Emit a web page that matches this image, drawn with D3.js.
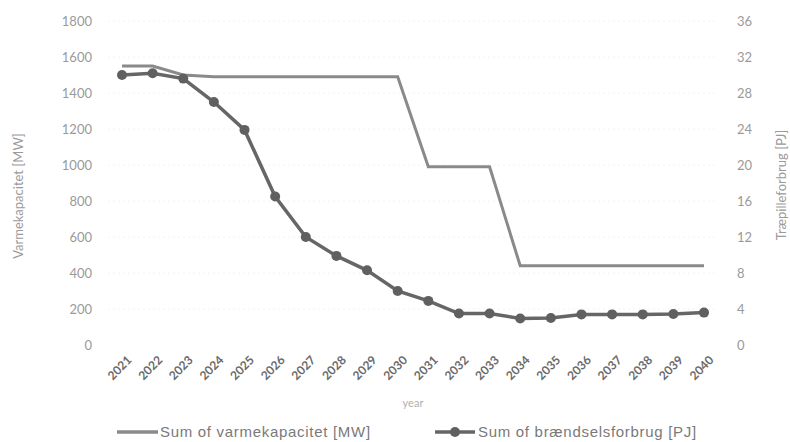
<!DOCTYPE html>
<html><head><meta charset="utf-8">
<script src="https://cdn.jsdelivr.net/npm/d3@7"></script>
<style>body{margin:0;background:#fff}svg{display:block}</style>
</head><body>
<script>
const years = [2021,2022,2023,2024,2025,2026,2027,2028,2029,2030,2031,2032,2033,2034,2035,2036,2037,2038,2039,2040];
const capacity = [1550,1550,1500,1490,1490,1490,1490,1490,1490,1490,990,990,990,440,440,440,440,440,440,440];
const fuel = [30,30.2,29.6,27,23.9,16.5,12,9.9,8.3,6,4.9,3.5,3.5,2.95,3,3.4,3.4,3.4,3.45,3.6];
const leftTicks = [0,200,400,600,800,1000,1200,1400,1600,1800];
const rightTicks = [0,4,8,12,16,20,24,28,32,36];
const seriesNames = ["Sum of varmekapacitet [MW]","Sum of brændselsforbrug [PJ]"];

const W=790,H=442;
const svg=d3.select("body").append("svg").attr("width",W).attr("height",H);
const font="Lato, 'Open Sans', sans-serif";
const x=d3.scalePoint().domain(years).range([122,704]);
const yL=d3.scaleLinear().domain([0,1800]).range([345,21]);
const yR=d3.scaleLinear().domain([0,36]).range([345,21]);

// grid
svg.append("g").selectAll("line").data(leftTicks.slice(1)).join("line")
 .attr("x1",108).attr("x2",718).attr("y1",d=>yL(d)).attr("y2",d=>yL(d))
 .attr("stroke","#f2f2f2").attr("stroke-width",1).attr("stroke-dasharray","2,3");

// left axis
const gl=svg.append("g").attr("transform","translate(100,0)")
 .call(d3.axisLeft(yL).tickValues(leftTicks).tickFormat(d3.format("d")).tickSize(0).tickPadding(8));
gl.select(".domain").remove();
gl.selectAll("text").attr("fill","#9a9a9a").style("font-family",font).style("font-size","13px");

// right axis
const gr=svg.append("g").attr("transform","translate(730,0)")
 .call(d3.axisRight(yR).tickValues(rightTicks).tickFormat(d3.format("d")).tickSize(0).tickPadding(7));
gr.select(".domain").remove();
gr.selectAll("text").attr("fill","#9a9a9a").style("font-family",font).style("font-size","13px");

// x axis
const gx=svg.append("g").attr("transform","translate(0,352)")
 .call(d3.axisBottom(x).tickFormat(d3.format("d")).tickSize(0).tickPadding(0));
gx.select(".domain").remove();
gx.selectAll("text").attr("fill","#6a6a6a").style("font-family",font).style("font-size","12px").style("font-weight","bold")
 .attr("text-anchor","end").attr("dy","0.7em").attr("transform","translate(4,3) rotate(-45)");

// axis titles
svg.append("text").attr("transform","translate(23,196) rotate(-90)").attr("text-anchor","middle")
 .attr("fill","#9a9a9a").style("font-family",font).style("font-size","13px").text("Varmekapacitet [MW]");
svg.append("text").attr("transform","translate(786,185) rotate(-90)").attr("text-anchor","middle")
 .attr("fill","#9a9a9a").style("font-family",font).style("font-size","13px").text("Træpilleforbrug [PJ]");
svg.append("text").attr("x",413).attr("y",407).attr("text-anchor","middle")
 .attr("fill","#b0b0b0").style("font-family",font).style("font-size","11px").text("year");

// lines
const capLine=d3.line().x((d,i)=>x(years[i])).y(d=>yL(d));
svg.append("path").attr("d",capLine(capacity)).attr("fill","none").attr("stroke","#8a8a8a").attr("stroke-width",3).attr("stroke-linejoin","miter");
const fuelLine=d3.line().x((d,i)=>x(years[i])).y(d=>yR(d));
svg.append("path").attr("d",fuelLine(fuel)).attr("fill","none").attr("stroke","#666").attr("stroke-width",3.5);
svg.append("g").selectAll("circle").data(fuel).join("circle")
 .attr("cx",(d,i)=>x(years[i])).attr("cy",d=>yR(d)).attr("r",5).attr("fill","#606060");

// legend
const lfont="'Liberation Sans', Arial, sans-serif";
const lg=svg.append("g");
lg.append("line").attr("x1",117).attr("x2",158).attr("y1",432).attr("y2",432).attr("stroke","#8a8a8a").attr("stroke-width",3.5);
lg.append("text").attr("x",160).attr("y",437).attr("fill","#7a7a7a").style("font-family",lfont).style("font-size","15px").style("letter-spacing","0.7px").text(seriesNames[0]);
lg.append("line").attr("x1",435).attr("x2",475).attr("y1",432).attr("y2",432).attr("stroke","#666").attr("stroke-width",3.5);
lg.append("circle").attr("cx",455).attr("cy",432).attr("r",5).attr("fill","#606060");
lg.append("text").attr("x",478).attr("y",437).attr("fill","#7a7a7a").style("font-family",lfont).style("font-size","15px").style("letter-spacing","0.7px").text(seriesNames[1]);
</script>
</body></html>
